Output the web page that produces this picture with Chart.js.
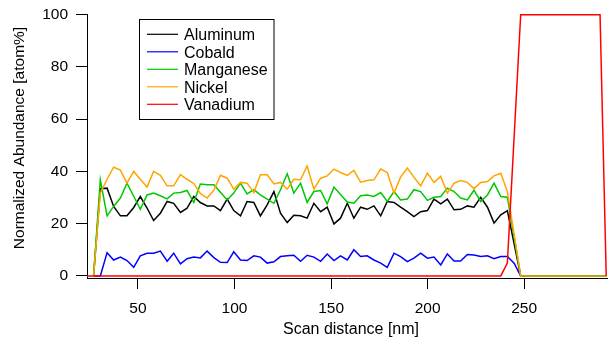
<!DOCTYPE html>
<html><head><meta charset="utf-8">
<script src="https://cdn.jsdelivr.net/npm/chart.js@4"></script>
<style>html,body{margin:0;padding:0;background:#fff}canvas{display:block}</style>
</head><body>
<canvas id="c" width="608" height="340"></canvas>
<script>
// Scan distance positions [nm]
const xNm = [23.6, 27.0,
  30.5, 34.0, 37.4, 40.9, 44.3, 47.8, 51.2, 54.7, 58.1, 61.6,
  65.1, 68.5, 72.0, 75.4, 78.9, 82.3, 85.8, 89.3, 92.7, 96.2,
  99.6, 103.1, 106.5, 110.0, 113.4, 116.9, 120.4, 123.8, 127.3, 130.7,
  134.2, 137.6, 141.1, 144.6, 148.0, 151.5, 154.9, 158.4, 161.8, 165.3,
  168.7, 172.2, 175.7, 179.1, 182.6, 186.0, 189.5, 192.9, 196.4, 199.9,
  203.3, 206.8, 210.2, 213.7, 217.1, 220.6, 224.0, 227.5, 231.0, 234.4,
  237.9, 241.3, 244.8, 248.2, 289.3, 292.5];

const aluminum = [null, 0,
  33.4, 33.6, 26.6, 23, 23, 26.2, 30.4, 26, 21.2, 24,
  28.5, 27.8, 24.3, 25.9, 30.4, 28.1, 26.8, 26.8, 25, 29.4,
  25, 23, 28.5, 28.1, 23, 27.2, 32.3, 24, 20.4, 23.2,
  23, 22.1, 27.8, 24.6, 26.3, 19.9, 22.1, 27.8, 22.1, 26.3,
  25.5, 26.8, 23, 28.5, 28.1, 26.3, 24.6, 22.7, 24.6, 25,
  29.4, 27.6, 29.4, 25.3, 25.5, 26.8, 26.3, 30.1, 26.3, 20.2,
  23.4, 25, null, 0, 0, 0];

const cobald = [null, 0,
  0, 8.9, 6.1, 7.2, 5.9, 3.3, 7.7, 8.7, 8.7, 9.5,
  5.6, 8.7, 4.6, 6.6, 7.2, 6.9, 9.5, 7, 5.2, 5.1,
  9.2, 6.1, 5.9, 7.7, 7.2, 4.9, 5.4, 7.4, 7.7, 7.9,
  5.6, 7.9, 7.2, 5.6, 8.4, 5.9, 7.7, 6.1, 10, 7.4,
  7.7, 6.1, 4.9, 3.3, 8.7, 7.4, 5.5, 6.8, 8.7, 6.8,
  7.2, 4.2, 8.4, 5.7, 5.7, 8.2, 8, 7.4, 7.7, 6.6,
  7.4, 7.4, 4.9, 0, 0, 0];

const manganese = [null, 0,
  36.8, 23, 26.6, 29.8, 35.5, 30.5, 25.5, 31, 31.7, 30.7,
  29.5, 31.7, 31.9, 32.7, 28.1, 35.2, 34.9, 34.9, 32, 29.1,
  31.7, 35.5, 31.4, 33, 31, 29.4, 27.8, 33, 39.1, 31.7,
  35.5, 28.1, 32.3, 32.7, 27.6, 34, 31.2, 28.3, 27.8, 30.7,
  31, 30.4, 31.9, 28.5, 32.3, 29.1, 29.4, 33, 32.3, 28.9,
  30.1, 30.4, 33.6, 32.3, 29.8, 29.1, 32.8, 28.5, 31, 35.5,
  30.4, 30.1, null, 0, 0, 0];

const nickel = [null, 0,
  31.7, 37, 41.6, 40.5, 35.5, 40, 37, 34, 40, 38.5,
  34.5, 34.5, 38.8, 37, 35.4, 31.6, 29.8, 32.8, 38.5, 37.4,
  33.2, 35.8, 35.5, 31.9, 38.7, 38.7, 35.2, 35.8, 33.2, 37,
  36.8, 42.1, 33.2, 37.4, 38.3, 40.9, 39.6, 38.5, 40.4, 35.9,
  36.5, 36.8, 40.9, 39.6, 31.7, 37.8, 41.3, 37.8, 34.5, 39.3,
  35.8, 38.1, 31.7, 35.5, 36.5, 35.8, 33.4, 35.8, 36.1, 38.3,
  39.3, 32.3, null, 0, 0, 0];

const vanadium = [0, 0,
  0, 0, 0, 0, 0, 0, 0, 0, 0, 0,
  0, 0, 0, 0, 0, 0, 0, 0, 0, 0,
  0, 0, 0, 0, 0, 0, 0, 0, 0, 0,
  0, 0, 0, 0, 0, 0, 0, 0, 0, 0,
  0, 0, 0, 0, 0, 0, 0, 0, 0, 0,
  0, 0, 0, 0, 0, 0, 0, 0, 0, 0,
  0, 4.9, null, 100, 100, 0];

const seriesNames = ['Aluminum', 'Cobald', 'Manganese', 'Nickel', 'Vanadium'];
const seriesColors = ['#000000', '#0000ff', '#00c800', '#ffa500', '#ff0000'];
const seriesValues = [aluminum, cobald, manganese, nickel, vanadium];
const drawOrder = [5, 4, 3, 2, 1];
const xTicks = [50, 100, 150, 200, 250];
const yTicks = [0, 20, 40, 60, 80, 100];
const xTitle = 'Scan distance [nm]';
const yTitle = 'Normalized Abundance [atom%]';

const FONT = 'Arial, "Liberation Sans", sans-serif';

const datasets = seriesNames.map((name, i) => ({
  label: name,
  data: xNm.map((x, j) => ({x: x, y: seriesValues[i][j]})),
  borderColor: seriesColors[i],
  backgroundColor: seriesColors[i],
  borderWidth: 1.5,
  pointRadius: 0,
  tension: 0,
  spanGaps: true,
  order: drawOrder[i],
  clip: 4
}));

const overlay = {
  id: 'overlay',
  afterDraw(chart) {
    const ctx = chart.ctx;
    ctx.save();
    // legend box
    ctx.fillStyle = '#fff';
    ctx.fillRect(139.5, 19.5, 134.5, 100);
    ctx.strokeStyle = '#000';
    ctx.lineWidth = 1;
    ctx.strokeRect(139.5, 19.5, 134.5, 100);
    ctx.font = '16px ' + FONT;
    ctx.textAlign = 'left';
    ctx.textBaseline = 'alphabetic';
    seriesNames.forEach((n, i) => {
      const y = 34.3 + 17.5 * i;
      ctx.strokeStyle = seriesColors[i];
      ctx.lineWidth = 1.2;
      ctx.beginPath();
      ctx.moveTo(147, y);
      ctx.lineTo(178, y);
      ctx.stroke();
      ctx.fillStyle = '#000';
      ctx.fillText(n, 184, y + 5.8);
    });
    // axis titles
    ctx.fillStyle = '#000';
    ctx.font = '16px ' + FONT;
    ctx.textAlign = 'center';
    ctx.fillText(xTitle, 351, 334);
    ctx.translate(24, 138);
    ctx.rotate(-Math.PI / 2);
    ctx.font = '15.5px ' + FONT;
    ctx.fillText(yTitle, 0, 0);
    ctx.restore();
  }
};

new Chart(document.getElementById('c'), {
  type: 'line',
  data: {datasets: datasets},
  options: {
    responsive: false,
    animation: false,
    devicePixelRatio: 1,
    layout: {padding: {top: 14.7, right: 1, left: 0, bottom: 0}},
    plugins: {legend: {display: false}, tooltip: {enabled: false}},
    scales: {
      x: {
        type: 'linear', min: 23.6, max: 292.9,
        afterBuildTicks: a => { a.ticks = xTicks.map(v => ({value: v})); },
        afterFit: s => { s.height = 62; s.paddingLeft = 0; s.paddingRight = 0; },
        grid: {drawOnChartArea: false, drawTicks: true, tickLength: 11, tickColor: '#000', tickWidth: 1},
        border: {display: true, color: '#000', width: 1},
        ticks: {color: '#000', font: {family: FONT, size: 15.5}, padding: 10, maxRotation: 0, autoSkip: false}
      },
      y: {
        type: 'linear', min: -0.8, max: 100,
        afterBuildTicks: a => { a.ticks = yTicks.map(v => ({value: v})); },
        afterFit: s => { s.width = 87; s.paddingTop = 0; s.paddingBottom = 0; },
        grid: {drawOnChartArea: false, drawTicks: true, tickLength: 11, tickColor: '#000', tickWidth: 1},
        border: {display: true, color: '#000', width: 1},
        ticks: {color: '#000', font: {family: FONT, size: 15.5}, padding: 8}
      }
    }
  },
  plugins: [overlay]
});
</script>
</body></html>
